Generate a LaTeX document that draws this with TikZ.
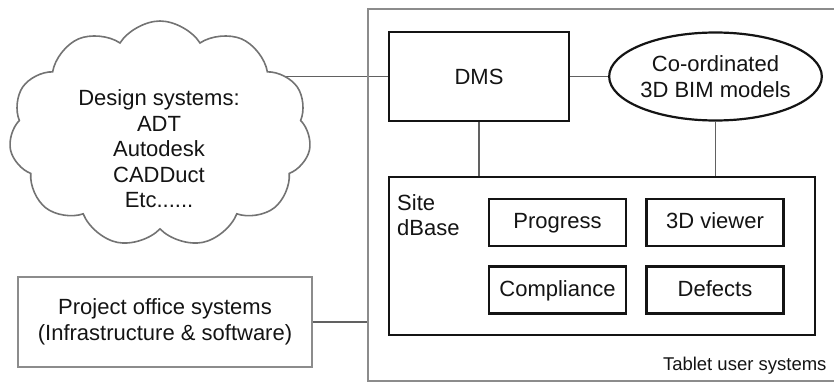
\documentclass[tikz,border=0pt]{standalone}
\usepackage{fontspec}
\setmainfont{Liberation Sans}
\usetikzlibrary{shapes.symbols,shapes.geometric,backgrounds}

\begin{document}
\begin{tikzpicture}[x=1pt,y=-1pt,
  every node/.style={font=\fontsize{22}{25.5}\selectfont, text=black!92, align=center},
  conn/.style={draw=black!62, line width=1.6pt},
  mainbox/.style={draw=black!92, line width=2.6pt, fill=white, inner sep=0pt},
  subbox/.style={draw=black!92, line width=2.2pt, fill=white, inner sep=0pt,
                 minimum width=137pt, minimum height=47pt,
                 text height=16pt, text depth=4pt},
  outerbox/.style={draw=black!45, line width=2pt, inner sep=0pt},
  cloudshape/.style={cloud, cloud puffs=11, cloud puff arc=115, draw=black!55,
                     line width=1.6pt, fill=white, inner sep=0pt}
]
\useasboundingbox (0,0) rectangle (834,382);

% tablet user systems enclosure (right side runs past the page edge)
\node[outerbox, anchor=north west, minimum width=475pt, minimum height=372pt] (tablet) at (367,8) {};
\node[anchor=base east, font=\fontsize{18.5}{20}\selectfont] (tabletlabel) at (830,370) {Tablet user systems};

% design systems cloud
\node[cloudshape, minimum width=302pt, minimum height=226pt] (design) at (160,134) {};
\node (designtext) at (159,149) {Design systems:\\ADT\\Autodesk\\CADDuct\\Etc......};

% project office systems
\node[outerbox, minimum width=294pt, minimum height=90pt] (proj) at (165,322)
  {Project office systems\\(Infrastructure \& software)};

% document management and models
\node[mainbox, minimum width=180pt, minimum height=89pt, text height=16pt, text depth=0pt] (dms) at (479,76.5) {DMS};
\node[ellipse, draw=black!92, line width=2.2pt, fill=white, inner sep=0pt,
      minimum width=185pt, minimum height=88pt] (bim) at (715.5,76.5)
  {Co-ordinated\\3D BIM models};

% site database and its modules
\node[mainbox, minimum width=426pt, minimum height=158pt] (site) at (602,256) {};
\node[anchor=north west, align=left, inner sep=0pt] (sitelabel) at (397,194) {Site\\dBase};
\node[subbox] (prog) at (557.5,222.5) {Progress};
\node[subbox] (view) at (715,222.5) {3D viewer};
\node[subbox] (comp) at (557.5,290) {Compliance};
\node[subbox] (defe) at (715,290) {Defects};

% connectors (drawn behind the shapes, so the cloud covers the line's end)
\begin{scope}[on background layer]
  \draw[conn] (dms.west) -- (dms.west -| design.center);
  \draw[conn] (dms) -- (bim);
  \draw[conn] (dms.south) -- (dms.south |- site.north);
  \draw[conn] (bim.south) -- (bim.south |- site.north);
  \draw[conn] (proj.east) -- (proj.east -| tablet.west);
\end{scope}
\end{tikzpicture}
\end{document}
